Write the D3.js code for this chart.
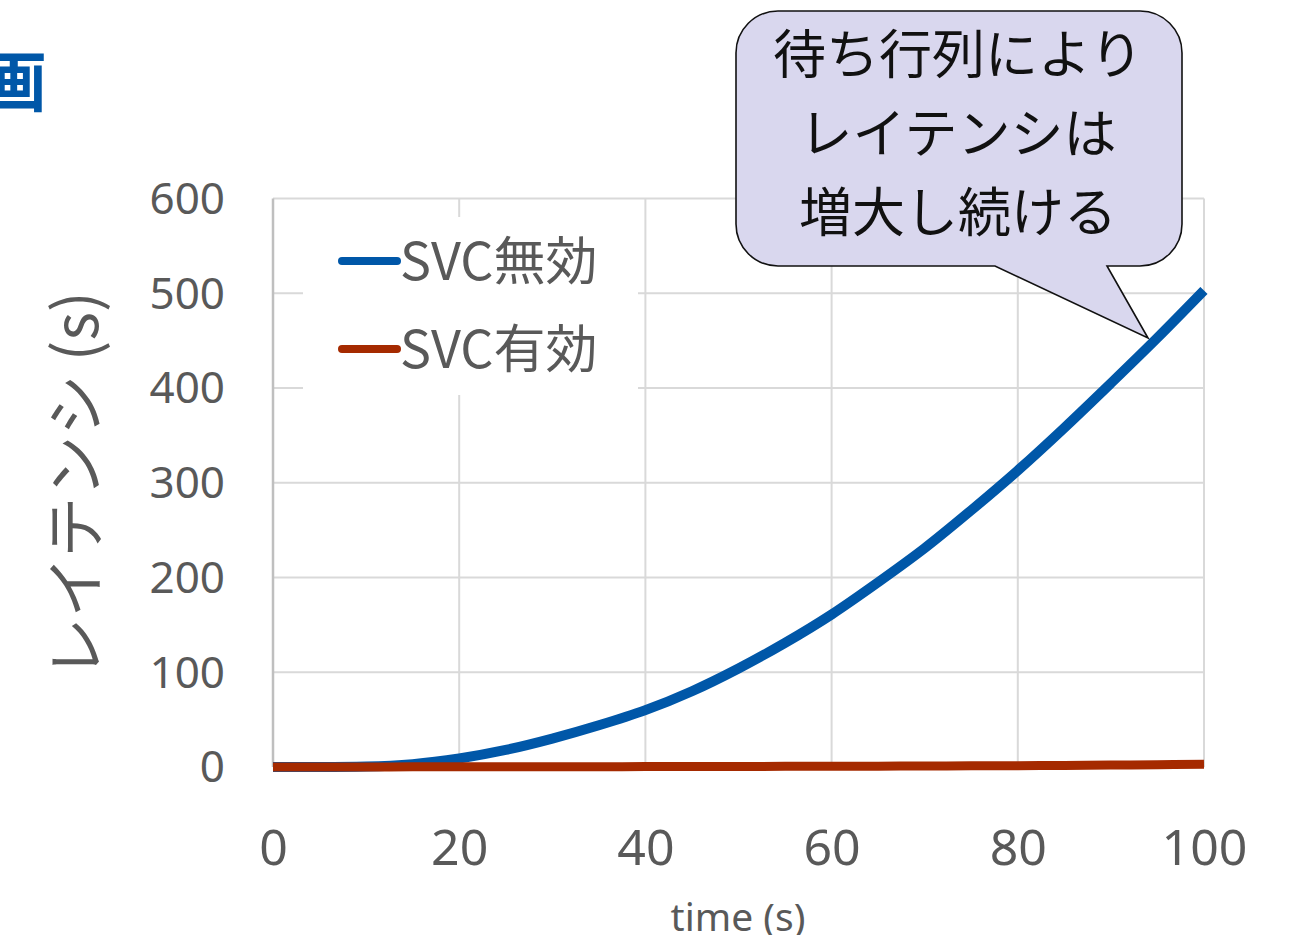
<!DOCTYPE html>
<html>
<head>
<meta charset="utf-8">
<script src="https://cdn.jsdelivr.net/npm/d3@7"></script>
<style>
  html, body { margin: 0; padding: 0; background: #fff; }
  svg { display: block; }
  text { font-family: "Noto Sans", "Noto Sans CJK JP", sans-serif; }
  .jp { font-family: "Noto Sans CJK JP", "Noto Sans", sans-serif; }
</style>
</head>
<body>
<svg id="chart" width="1303" height="935"></svg>
<script>
// Elapsed time (s)
const times = [0, 5, 10, 15, 20, 25, 30, 35, 40, 45, 50, 55, 60, 65, 70, 75, 80, 85, 90, 95, 100];
// Latency (s) without SVC: the queue keeps growing
const latencyOff = [0, 0.1, 0.6, 3, 9, 18, 30, 44, 60, 80, 104, 131, 161, 195, 231, 271, 313, 358, 405, 453, 503];
// Latency (s) with SVC: stays near zero
const latencyOn = [0, 0.05, 0.1, 0.15, 0.2, 0.25, 0.3, 0.35, 0.4, 0.5, 0.6, 0.7, 0.8, 0.9, 1.0, 1.2, 1.4, 1.7, 2.0, 2.4, 3.0];
const seriesNames = ["SVC無効", "SVC有効"];
const seriesColors = ["#0057a8", "#a52a00"];
const xTicks = [0, 20, 40, 60, 80, 100];
const yTicks = [0, 100, 200, 300, 400, 500, 600];
const calloutLines = ["待ち行列により", "レイテンシは", "増大し続ける"];

const svg = d3.select("#chart");
const x = d3.scaleLinear().domain([0, 100]).range([273, 1204]);
const y = d3.scaleLinear().domain([0, 600]).range([767, 198.5]);

// Partial heading at the top-left edge
svg.append("text").attr("class", "jp")
  .attr("x", 47).attr("y", 106)
  .attr("text-anchor", "end")
  .attr("font-size", 66).attr("font-weight", 700)
  .attr("fill", "#0057a8")
  .text("画");

// Gridlines
const grid = svg.append("g").attr("stroke", "#d9d9d9").attr("stroke-width", 2);
grid.selectAll("line.h").data(yTicks.filter(d => d > 0)).join("line")
  .attr("x1", x(0)).attr("x2", x(100))
  .attr("y1", d => y(d)).attr("y2", d => y(d));
grid.selectAll("line.v").data(xTicks.filter(d => d > 0)).join("line")
  .attr("x1", d => x(d)).attr("x2", d => x(d))
  .attr("y1", y(0)).attr("y2", y(600));
// Left axis line
svg.append("line").attr("x1", x(0)).attr("x2", x(0))
  .attr("y1", y(0)).attr("y2", y(600))
  .attr("stroke", "#bfbfbf").attr("stroke-width", 2.5);

// Y axis
const yAxis = svg.append("g")
  .attr("transform", `translate(${x(0)},0)`)
  .call(d3.axisLeft(y).tickValues(yTicks).tickSize(0).tickPadding(48));
yAxis.select(".domain").remove();
yAxis.selectAll("text").attr("font-size", 44).attr("fill", "#595959")
  .attr("font-family", "'Noto Sans', sans-serif").attr("dy", "0.34em");

// X axis
const xAxis = svg.append("g")
  .attr("transform", `translate(0,${y(0)})`)
  .call(d3.axisBottom(x).tickValues(xTicks).tickSize(0).tickPadding(80));
xAxis.select(".domain").remove();
xAxis.selectAll("text").attr("font-size", 50).attr("fill", "#595959")
  .attr("font-family", "'Noto Sans', sans-serif").attr("dy", "0.35em");

// Axis titles
svg.append("text")
  .attr("x", 738).attr("y", 931)
  .attr("text-anchor", "middle")
  .attr("font-size", 39).attr("fill", "#595959")
  .text("time (s)");
svg.append("text").attr("class", "jp")
  .attr("transform", "translate(98,485) rotate(-90)")
  .attr("text-anchor", "middle")
  .attr("font-size", 61).attr("fill", "#595959")
  .text("レイテンシ (s)");

// Legend box (white background over the grid)
const legend = svg.append("g");
legend.append("rect")
  .attr("x", 303).attr("y", 217).attr("width", 335).attr("height", 178)
  .attr("fill", "#fff");
seriesNames.forEach((name, i) => {
  const ly = 261 + i * 88;
  legend.append("line")
    .attr("x1", 342).attr("x2", 397).attr("y1", ly).attr("y2", ly)
    .attr("stroke", seriesColors[i]).attr("stroke-width", 8)
    .attr("stroke-linecap", "round");
  legend.append("text").attr("class", "jp")
    .attr("x", 400).attr("y", ly).attr("dy", "0.36em")
    .attr("font-size", 52).attr("fill", "#595959")
    .text(name);
});

// Series lines
const line = d3.line()
  .x((d, i) => x(times[i]))
  .y(d => y(d))
  .curve(d3.curveMonotoneX);
[latencyOff, latencyOn].forEach((vals, i) => {
  svg.append("path")
    .datum(vals)
    .attr("d", line)
    .attr("fill", "none")
    .attr("stroke", seriesColors[i])
    .attr("stroke-width", i === 0 ? 10 : 9)
    .attr("stroke-linecap", "butt");
});

// Speech-bubble callout pointing at the growing curve
const bx0 = 736, by0 = 11, bx1 = 1182, by1 = 266, r = 42;
const tip = [1148, 338];
const bubble = d3.path();
bubble.moveTo(bx0 + r, by0);
bubble.lineTo(bx1 - r, by0);
bubble.arcTo(bx1, by0, bx1, by0 + r, r);
bubble.lineTo(bx1, by1 - r);
bubble.arcTo(bx1, by1, bx1 - r, by1, r);
bubble.lineTo(1107, by1);
bubble.lineTo(tip[0], tip[1]);
bubble.lineTo(995, by1);
bubble.lineTo(bx0 + r, by1);
bubble.arcTo(bx0, by1, bx0, by1 - r, r);
bubble.lineTo(bx0, by0 + r);
bubble.arcTo(bx0, by0, bx0 + r, by0, r);
bubble.closePath();
svg.append("path")
  .attr("d", bubble.toString())
  .attr("fill", "#d9d7ee")
  .attr("stroke", "#111")
  .attr("stroke-width", 1.6)
  .attr("stroke-linejoin", "miter");
svg.append("g").selectAll("text").data(calloutLines).join("text")
  .attr("class", "jp")
  .attr("x", 958)
  .attr("y", (d, i) => 55 + i * 79)
  .attr("dy", "0.36em")
  .attr("text-anchor", "middle")
  .attr("font-size", 53)
  .attr("fill", "#111")
  .text(d => d);
</script>
</body>
</html>
